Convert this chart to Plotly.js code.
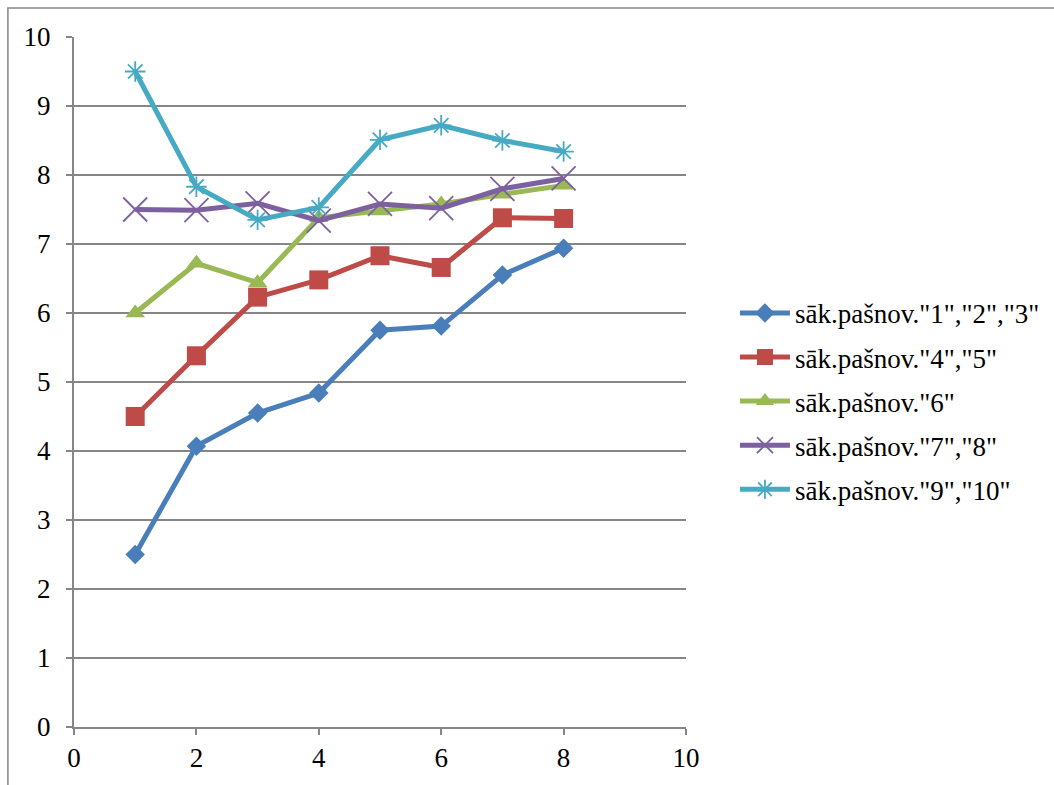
<!DOCTYPE html>
<html>
<head>
<meta charset="utf-8">
<script src="https://cdn.plot.ly/plotly-3.0.1.min.js"></script>
<style>html,body{margin:0;padding:0;background:#fff;}#chart{width:1054px;height:785px;}</style>
</head>
<body>
<div id="chart"></div>
<script>
const xValues = [1, 2, 3, 4, 5, 6, 7, 8];
const seriesNames = ['sāk.pašnov."1","2","3"', 'sāk.pašnov."4","5"', 'sāk.pašnov."6"', 'sāk.pašnov."7","8"', 'sāk.pašnov."9","10"'];
const s1 = [2.5, 4.07, 4.55, 4.84, 5.75, 5.81, 6.55, 6.94];
const s2 = [4.5, 5.38, 6.23, 6.48, 6.83, 6.66, 7.38, 7.37];
const s3 = [6.0, 6.72, 6.44, 7.38, 7.48, 7.58, 7.72, 7.85];
const s4 = [7.5, 7.49, 7.59, 7.34, 7.58, 7.52, 7.8, 7.95];
const s5 = [9.5, 7.83, 7.35, 7.53, 8.51, 8.72, 8.5, 8.34];
const allSeries = [s1, s2, s3, s4, s5];
const colors = ['#4A7EBB', '#BE4B48', '#98B954', '#7D60A0', '#46AAC5'];
const symbols = ['diamond', 'square', 'triangle-up', 'x-thin-open', 'asterisk-open'];
const sizes = [15, 19, 17, 24, 17];

const traces = allSeries.map((ys, i) => ({
  x: xValues, y: ys, name: seriesNames[i], type: 'scatter', mode: 'lines+markers',
  line: {color: colors[i], width: 5},
  marker: {symbol: symbols[i], size: sizes[i], color: colors[i], line: {color: colors[i], width: (i >= 3 ? 1.8 : 0)}},
  legendgroup: 'g' + i
}));

const serif = 'Liberation Serif';
const layout = {
  width: 1054, height: 785,
  margin: {l: 74, r: 368, t: 37, b: 58, autoexpand: false},
  paper_bgcolor: '#fff', plot_bgcolor: '#fff',
  font: {family: serif, size: 27, color: '#000'},
  xaxis: {range: [0, 10], dtick: 2, tick0: 0, showgrid: false, zeroline: false, automargin: false,
    showline: true, linecolor: '#868686', linewidth: 2, ticks: 'outside', ticklen: 6, tickwidth: 2, tickcolor: '#868686',
    tickfont: {family: serif, size: 27, color: '#000'}},
  yaxis: {range: [0, 10], dtick: 1, tick0: 0, showgrid: true, gridcolor: '#868686', gridwidth: 2, zeroline: false, automargin: false,
    showline: true, linecolor: '#868686', linewidth: 2, ticks: 'outside', ticklen: 6, tickwidth: 2, tickcolor: '#868686',
    ticklabelstandoff: 10, tickfont: {family: serif, size: 27, color: '#000'}},
  showlegend: true,
  legend: {x: 1.08, y: 0.635, xanchor: 'left', yanchor: 'top', font: {family: serif, size: 27}, tracegroupgap: 6,
    itemwidth: 50, bgcolor: 'rgba(0,0,0,0)'},
  shapes: [{type: 'rect', xref: 'paper', yref: 'paper', x0: -0.108, x1: 1.65, y0: -0.2, y1: 1.042,
    line: {color: '#868686', width: 1.5}, fillcolor: 'rgba(0,0,0,0)', layer: 'below'}]
};

Plotly.newPlot('chart', traces, layout, {displayModeBar: false, staticPlot: true});
</script>
</body>
</html>
